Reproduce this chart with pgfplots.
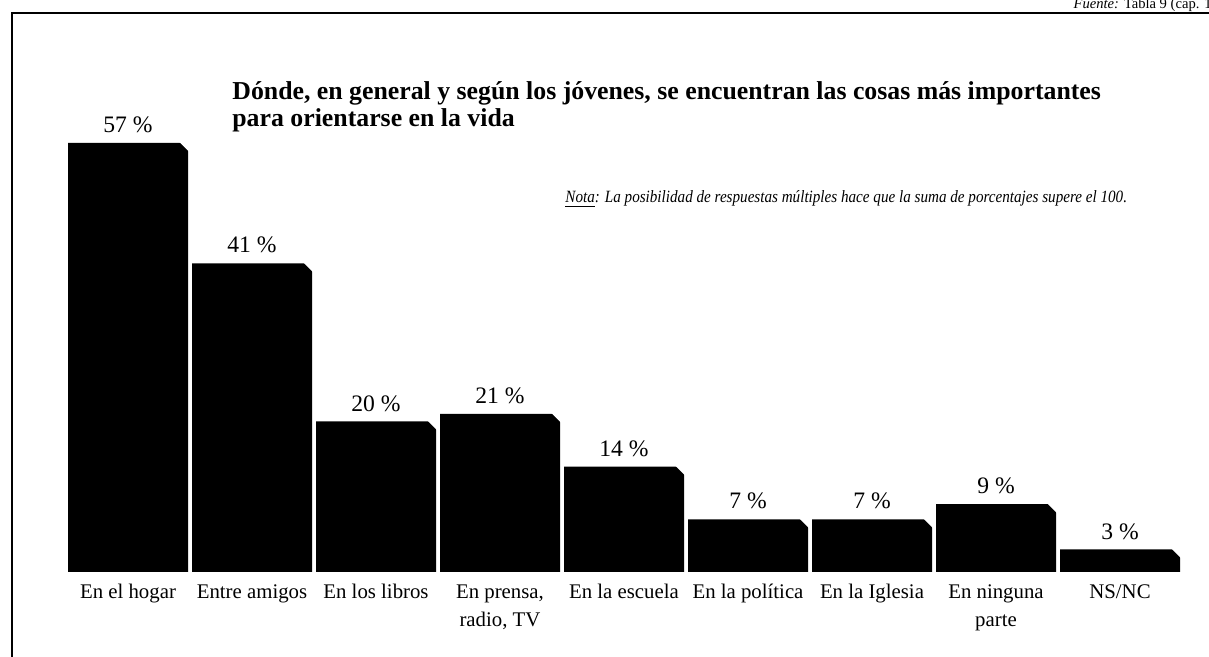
\documentclass[border=0pt]{standalone}
\usepackage{pgfplots}
\pgfplotsset{compat=1.18}
\usepackage{fontspec}
\setmainfont{Liberation Serif}
\pgfdeclareplotmark{chamfer}{%
  \pgfpathmoveto{\pgfpoint{25.5pt}{0.6pt}}%
  \pgfpathlineto{\pgfpoint{30.6pt}{0.6pt}}%
  \pgfpathlineto{\pgfpoint{30.6pt}{-4.5pt}}%
  \pgfpathclose\pgfusepath{fill}}
\begin{document}
\begin{tikzpicture}[x=1pt,y=1pt]
\path[use as bounding box] (0,0) rectangle (604.5,328.5);
\draw[line width=1.2pt] (6,0) -- (6,322) -- (610,322);
\node[anchor=base east, inner sep=0pt, font=\fontsize{7.3}{8}\selectfont] at (606,324) {\textit{Fuente:} Tabla 9 (cap. 1};
\node[anchor=north west, inner sep=0pt, align=left, font=\fontsize{12.9}{13.8}\bfseries] at (116,288) {Dónde, en general y según los jóvenes, se encuentran las cosas más importantes\\para orientarse en la vida};
\node[anchor=base west, inner sep=0pt, font=\fontsize{8.6}{9}\itshape] at (282.5,227) {\scalebox{0.88}[1]{\underline{Nota}: La posibilidad de respuestas múltiples hace que la suma de porcentajes supere el 100.}};
\begin{axis}[
 at={(33pt,42.5pt)}, anchor=south west,
 scale only axis, width=558pt, height=225.9pt,
 xmin=-0.5, xmax=8.5, ymin=0, ymax=60,
 hide y axis, axis x line*=bottom, x axis line style={draw=none},
 major tick length=0pt,
 xtick=data,
 xticklabels={\strut En el hogar, \strut Entre amigos, \strut En los libros, {\strut En prensa,\\radio, TV}, \strut En la escuela, \strut En la política, \strut En la Iglesia, {\strut En ninguna\\parte}, \strut NS/NC},
 xticklabel style={font=\fontsize{10.4}{14}\selectfont, align=center, anchor=north, inner sep=1pt, yshift=-2.5pt},
 /pgf/number format/assume math mode=true,
 clip=false,
]
\addplot[ybar, bar width=60pt, bar shift=0pt, fill=black, draw=none,
  nodes near coords={\pgfmathprintnumber{\pgfplotspointmeta}~\%},
  every node near coord/.append style={font=\fontsize{11.8}{12}\selectfont, yshift=1.5pt, text=black}]
  coordinates {(0,57) (1,41) (2,20) (3,21) (4,14) (5,7) (6,7) (7,9) (8,3)};
\addplot[only marks, mark=chamfer, mark options={fill=white, draw=none}]
  coordinates {(0,57) (1,41) (2,20) (3,21) (4,14) (5,7) (6,7) (7,9) (8,3)};
\end{axis}
\end{tikzpicture}
\end{document}
